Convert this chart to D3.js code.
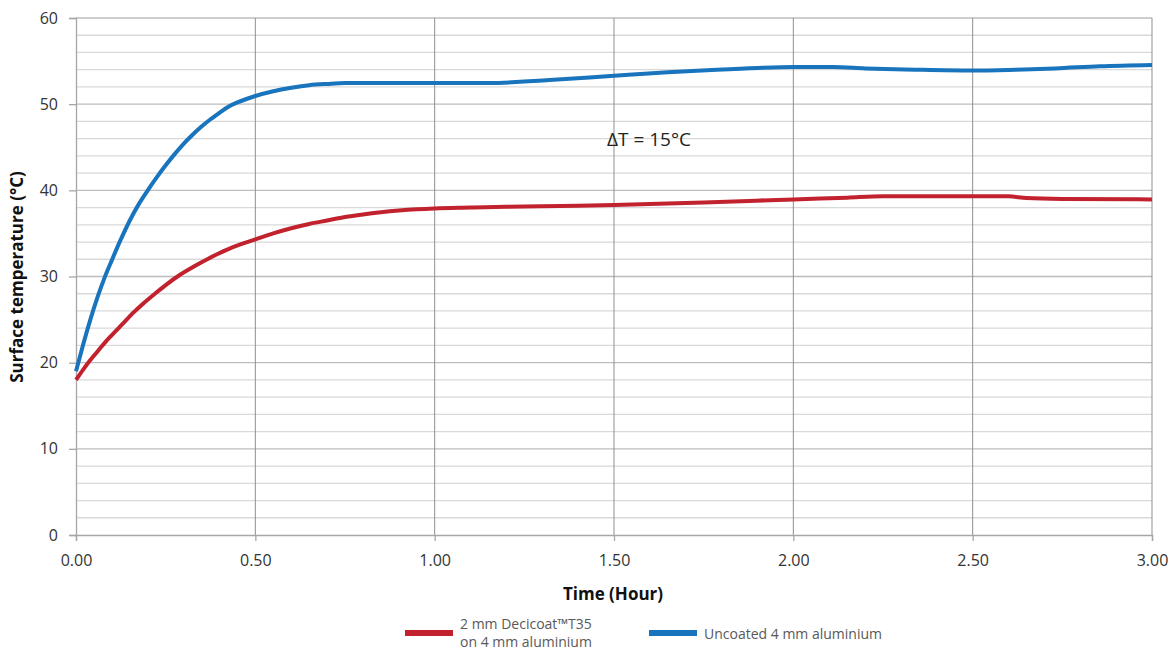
<!DOCTYPE html>
<html><head><meta charset="utf-8">
<script src="https://cdn.jsdelivr.net/npm/d3@7/dist/d3.min.js"></script>
<style>body{margin:0;background:#fff}svg{display:block;font-family:"Open Sans","Noto Sans",sans-serif}</style>
</head><body><svg id="c" width="1175" height="651"></svg>
<script>
const xTicks = [0, 0.5, 1.0, 1.5, 2.0, 2.5, 3.0];
const yTicks = [0, 10, 20, 30, 40, 50, 60];
const yMinor = [2,4,6,8,12,14,16,18,22,24,26,28,32,34,36,38,42,44,46,48,52,54,56,58];

const blueTime = [0,0.02,0.04,0.06,0.08,0.1,0.125,0.15,0.175,0.2,0.225,0.25,0.275,0.3,0.325,0.35,0.375,0.4,0.425,0.45,0.475,0.5,0.55,0.6,0.65,0.7,0.75,0.85,1.0,1.15,1.32,1.5,1.65,1.786,1.9,2.0,2.11,2.2,2.34,2.5,2.62,2.73,2.855,3.0];
const blueTemp = [19.0,22.1,25.0,27.6,29.9,31.9,34.3,36.5,38.4,40.0,41.5,42.9,44.2,45.4,46.45,47.4,48.25,49.0,49.7,50.2,50.6,50.95,51.5,51.9,52.2,52.35,52.45,52.45,52.45,52.45,52.8,53.3,53.7,54.0,54.2,54.3,54.3,54.15,54.0,53.9,54.0,54.15,54.4,54.55];

const redTime = [0,0.02,0.04,0.06,0.08,0.1,0.13,0.16,0.19,0.22,0.25,0.29,0.33,0.37,0.42,0.46,0.5,0.55,0.6,0.65,0.7,0.75,0.8,0.85,0.9,0.95,1.0,1.1,1.2,1.4,1.5,1.75,2.0,2.15,2.25,2.6,2.65,2.75,3.0];
const redTemp = [18.0,19.2,20.3,21.3,22.3,23.2,24.5,25.8,26.95,28.0,29.0,30.2,31.2,32.1,33.1,33.75,34.3,35.0,35.6,36.1,36.5,36.9,37.2,37.45,37.65,37.8,37.9,38.0,38.1,38.2,38.3,38.6,38.95,39.15,39.3,39.3,39.1,39.0,38.95];

const seriesNames = ["2 mm Decicoat™T35|on 4 mm aluminium", "Uncoated 4 mm aluminium"];
const seriesColors = ["#c1222e", "#1874bd"];

const svg = d3.select("#c");
const x = d3.scaleLinear().domain([0,3]).range([76,1152]);
const y = d3.scaleLinear().domain([0,60]).range([535,18]);

svg.append("g").selectAll("line").data(yMinor).join("line")
  .attr("x1",x(0)).attr("x2",x(3)).attr("y1",d=>y(d)).attr("y2",d=>y(d))
  .attr("stroke","#d9d9d9").attr("stroke-width",1.3);
svg.append("g").selectAll("line").data(yTicks.filter(d=>d>0)).join("line")
  .attr("x1",x(0)).attr("x2",x(3)).attr("y1",d=>y(d)).attr("y2",d=>y(d))
  .attr("stroke","#bcbcbc").attr("stroke-width",1.3);
svg.append("g").selectAll("line").data(xTicks.filter(d=>d>0)).join("line")
  .attr("x1",d=>x(d)).attr("x2",d=>x(d)).attr("y1",y(0)).attr("y2",y(60))
  .attr("stroke","#8f8f8f").attr("stroke-width",1);

const yAxis = d3.axisLeft(y).tickValues(yTicks).tickSize(7).tickPadding(11).tickFormat(d3.format("d"));
const gy = svg.append("g").attr("transform",`translate(${x(0)},0)`).call(yAxis);
const xAxis = d3.axisBottom(x).tickValues(xTicks).tickSize(6).tickPadding(14).tickFormat(d3.format(".2f"));
const gx = svg.append("g").attr("transform",`translate(0,${y(0)})`).call(xAxis);
[gx,gy].forEach(g=>{
  g.select(".domain").attr("stroke","#a6a6a6").attr("stroke-width",1.3);
  g.selectAll(".tick line").attr("stroke","#a6a6a6").attr("stroke-width",1.3);
  g.selectAll(".tick text").attr("fill","#333").style("font-size","16px").style("font-family","'Open Sans','Noto Sans',sans-serif");
});

const line = d3.line().x(d=>x(d[0])).y(d=>y(d[1])).curve(d3.curveMonotoneX);
svg.append("path").datum(redTime.map((t,i)=>[t,redTemp[i]]))
  .attr("d",line).attr("fill","none").attr("stroke",seriesColors[0]).attr("stroke-width",4);
svg.append("path").datum(blueTime.map((t,i)=>[t,blueTemp[i]]))
  .attr("d",line).attr("fill","none").attr("stroke",seriesColors[1]).attr("stroke-width",4);

svg.append("text").attr("x",607).attr("y",146).attr("fill","#222").style("font-size","19px").text("ΔT = 15°C");

svg.append("text").attr("x",613).attr("y",600).attr("text-anchor","middle").attr("fill","#111")
  .style("font-size","17px").style("font-weight","bold").text("Time (Hour)");
svg.append("text").attr("transform","translate(23,277) rotate(-90)").attr("text-anchor","middle").attr("fill","#111")
  .style("font-size","17px").style("font-weight","bold").text("Surface temperature (°C)");

const lg = svg.append("g").style("font-size","14px").attr("fill","#595959");
lg.append("rect").attr("x",405).attr("y",630).attr("width",48).attr("height",6).attr("fill",seriesColors[0]);
const t1 = lg.append("text").attr("x",460).attr("y",629);
const parts = seriesNames[0].split("|");
t1.append("tspan").attr("x",460).attr("dy",0).text(parts[0]);
t1.append("tspan").attr("x",460).attr("dy",18).text(parts[1]);
lg.append("rect").attr("x",649).attr("y",630).attr("width",48).attr("height",6).attr("fill",seriesColors[1]);
lg.append("text").attr("x",704).attr("y",639).text(seriesNames[1]);
</script></body></html>
